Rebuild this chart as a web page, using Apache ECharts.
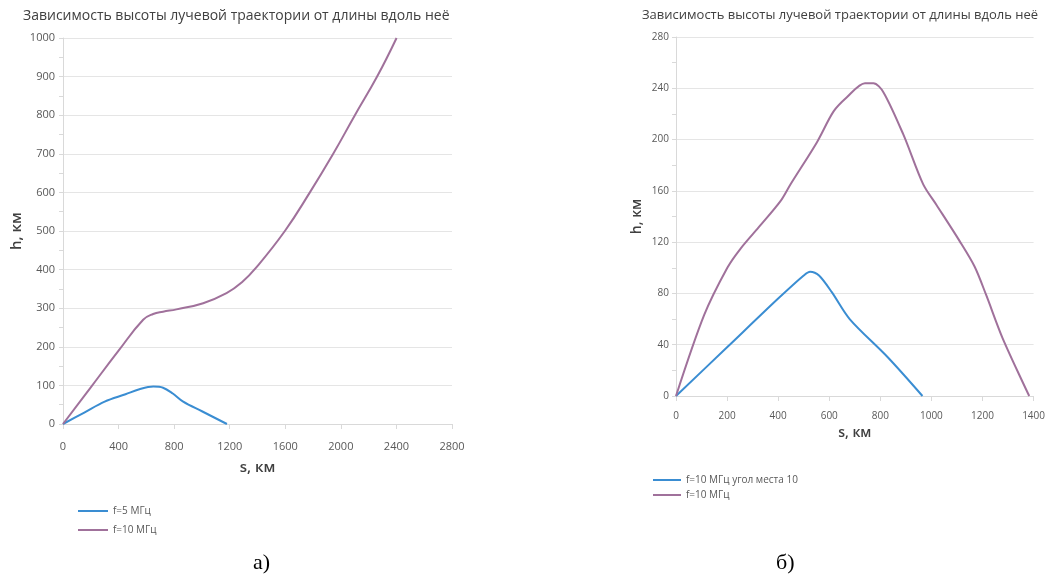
<!DOCTYPE html>
<html>
<head>
<meta charset="utf-8">
<script src="https://cdn.jsdelivr.net/npm/echarts@6/dist/echarts.min.js"></script>
<style>
html,body{margin:0;padding:0;background:#fff;}
#c{width:1048px;height:588px;}
</style>
</head>
<body>
<div id="c"></div>
<script>
// ---- Data: chart (а) ----
const titleText = 'Зависимость высоты лучевой траектории от длины вдоль неё';
const aXTicks = [0, 400, 800, 1200, 1600, 2000, 2400, 2800];
const aYTicks = [0, 100, 200, 300, 400, 500, 600, 700, 800, 900, 1000];
const aBlueName = 'f=5 МГц';
const aBlueS = [0, 150, 300, 450, 550, 650, 720, 790, 865, 1000, 1180];
const aBlueH = [0, 29, 58, 77, 90, 97, 94, 79, 58, 33, 0];
const aPurpleName = 'f=10 МГц';
const aPurpleS = [0, 200, 400, 577, 649, 720, 817, 1009, 1177, 1290, 1390, 1597, 1777, 1945, 2101, 2261, 2401];
const aPurpleH = [0, 95, 190, 270, 285, 291, 297, 313, 339, 368, 405, 500, 600, 700, 800, 900, 1000];

// ---- Data: chart (б) ----
const bXTicks = [0, 200, 400, 600, 800, 1000, 1200, 1400];
const bYTicks = [0, 40, 80, 120, 160, 200, 240, 280];
const bBlueName = 'f=10 МГц угол места 10';
const bBlueS = [0, 200, 400, 500, 525, 560, 610, 680, 830, 965];
const bBlueH = [0, 38, 76, 94, 97, 94, 81, 60, 30, 0];
const bPurpleName = 'f=10 МГц';
const bPurpleS = [0, 110, 201, 253, 330, 409, 448, 552, 617, 669, 740, 773, 812, 890, 968, 1020, 1110, 1169, 1214, 1279, 1383];
const bPurpleH = [0, 63, 100, 115, 133, 152, 165, 198, 222, 233, 244, 244, 237, 204, 165, 149, 121, 101, 79, 45, 0];

const pairs = (xs, ys) => xs.map((x, i) => [x, ys[i]]);

const BLUE = '#3a8dd2';
const PURPLE = '#a0719b';
const FONT = '"Open Sans", "Noto Sans", sans-serif';
const LBL = '#595959';
const AX = '#d9d9d9';
const GRID = '#e5e5e5';

function xAxis(idx, ticks, margin, fs, gap) {
  return {
    type: 'value', gridIndex: idx,
    min: ticks[0], max: ticks[ticks.length - 1], interval: ticks[1] - ticks[0],
    name: 's, км', nameLocation: 'middle', nameGap: gap,
    nameTextStyle: { fontFamily: FONT, fontSize: fs + 4, fontWeight: 600, color: '#404040' },
    axisLine: { show: true, onZero: false, lineStyle: { color: AX, width: 1 } },
    axisTick: { show: true, length: 5, lineStyle: { color: AX } },
    axisLabel: { margin: margin, fontFamily: FONT, fontSize: fs, color: LBL, formatter: v => String(v) },
    splitLine: { show: false }
  };
}
function yAxis(idx, ticks, margin, fs, gap) {
  return {
    type: 'value', gridIndex: idx,
    min: ticks[0], max: ticks[ticks.length - 1], interval: ticks[1] - ticks[0],
    name: 'h, км', nameLocation: 'middle', nameGap: gap, nameRotate: 90,
    nameTextStyle: { fontFamily: FONT, fontSize: fs + 4, fontWeight: 600, color: '#404040' },
    axisLine: { show: true, lineStyle: { color: AX, width: 1 } },
    axisTick: { show: true, length: 4, lineStyle: { color: AX } },
    minorTick: { show: true, splitNumber: 2, length: 4, lineStyle: { color: AX } },
    axisLabel: { margin: margin, fontFamily: FONT, fontSize: fs, color: LBL, formatter: v => String(v) },
    splitLine: { show: true, lineStyle: { color: GRID, width: 1 } }
  };
}
function line(name, xi, data, color, sm) {
  return {
    type: 'line', name: name, xAxisIndex: xi, yAxisIndex: xi,
    data: data, smooth: sm, showSymbol: false, symbol: 'none',
    lineStyle: { color: color, width: 2 }, itemStyle: { color: color },
    animation: false
  };
}

const chart = echarts.init(document.getElementById('c'), null, { renderer: 'canvas' });
chart.setOption({
  backgroundColor: '#fff',
  animation: false,
  grid: [
    { left: 63, top: 38, width: 389, height: 386 },
    { left: 676, top: 37, width: 359, height: 359 }
  ],
  xAxis: [xAxis(0, aXTicks, 17, 11, 36), xAxis(1, bXTicks, 15, 10, 30)],
  yAxis: [yAxis(0, aYTicks, 8, 11, 39), yAxis(1, bYTicks, 7, 10, 32)],
  legend: [
    { orient: 'vertical', left: 73, top: 500, icon: 'rect', itemWidth: 30, itemHeight: 2,
      itemGap: 7, data: [aBlueName, aPurpleName], selectedMode: false,
      textStyle: { fontFamily: FONT, fontSize: 10, color: LBL, lineHeight: 12 } },
    { orient: 'vertical', left: 648, top: 469, icon: 'rect', itemWidth: 28, itemHeight: 2,
      itemGap: 3, data: [bBlueName, bPurpleName], selectedMode: false,
      textStyle: { fontFamily: FONT, fontSize: 10, color: LBL, lineHeight: 12 } }
  ],
  graphic: [
    { type: 'text', left: 23, top: 9, style: { text: titleText, fontFamily: FONT, fontSize: 14, fill: '#404040' } },
    { type: 'text', left: 642, top: 9, style: { text: titleText, fontFamily: FONT, fontSize: 13, fill: '#404040' } },
    { type: 'text', left: 253, top: 552, style: { text: 'а)', fontFamily: '"Liberation Serif", serif', fontSize: 22, fill: '#000' } },
    { type: 'text', left: 776, top: 552, style: { text: 'б)', fontFamily: '"Liberation Serif", serif', fontSize: 22, fill: '#000' } }
  ],
  series: [
    line(aBlueName, 0, pairs(aBlueS, aBlueH), BLUE, 0.35),
    line(aPurpleName, 0, pairs(aPurpleS, aPurpleH), PURPLE, 0.45),
    line(bBlueName, 1, pairs(bBlueS, bBlueH), BLUE, 0.3),
    line(bPurpleName, 1, pairs(bPurpleS, bPurpleH), PURPLE, 0.3)
  ]
});
</script>
</body>
</html>
